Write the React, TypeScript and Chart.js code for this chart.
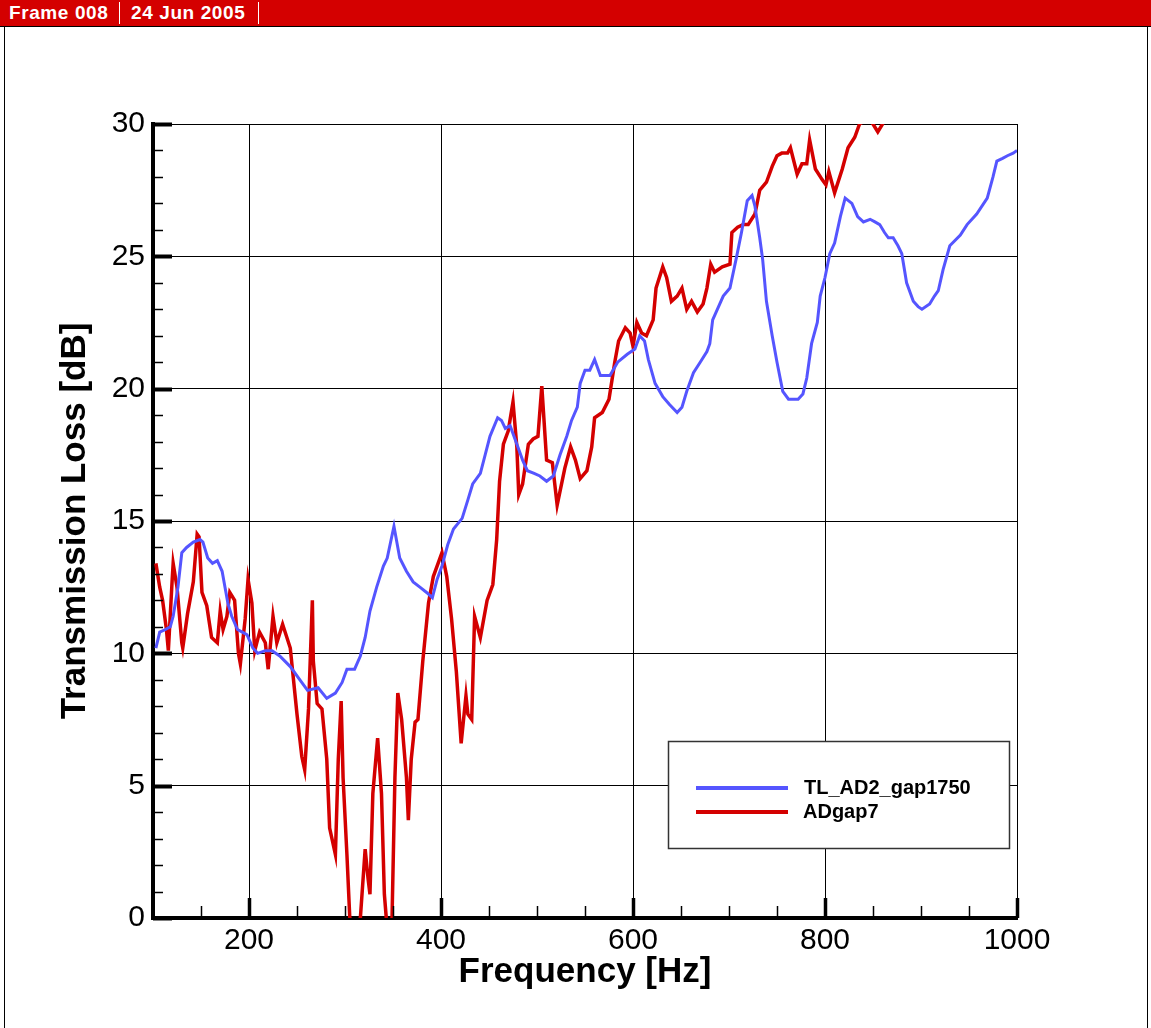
import React, { useEffect, useRef } from "react";
import { Chart, registerables } from "chart.js";

Chart.register(...registerables);

// TL_AD2_gap1750 — frequency [Hz] and transmission loss [dB]
const gapFreq = [
  103, 107, 113, 118, 121, 126, 130, 135, 142, 149, 152, 157, 162, 167, 172, 175, 178, 182, 188, 193,
  198, 204, 209, 217, 224, 232, 243, 253, 261, 272, 281, 290, 297, 302, 310, 316, 321, 326, 333, 340,
  344, 351, 357, 364, 371, 378, 385, 391, 396, 401, 407, 413, 422, 428, 433, 441, 446, 451, 459, 463,
  467, 472, 478, 485, 490, 497, 503, 510, 517, 524, 531, 536, 542, 545, 550, 555, 560, 566, 576, 584,
  594, 602, 607, 612, 616, 623, 631, 638, 646, 651, 656, 663, 670, 677, 680, 683, 694, 701, 708, 713,
  719, 724, 727, 732, 735, 739, 745, 750, 756, 762, 767, 772, 777, 781, 786, 792, 795, 800, 805, 810,
  816, 821, 828, 834, 840, 847, 852, 857, 862, 866, 871, 876, 880, 885, 892, 897, 901, 909, 914, 918,
  923, 930, 941, 948, 958, 969, 975, 979, 985, 990, 996, 1000,
];
const gapLoss = [
  10.2, 10.8, 10.9, 11.0, 11.4, 12.5, 13.8, 14.0, 14.2, 14.3, 14.2, 13.6, 13.4, 13.5, 13.1, 12.5, 11.9, 11.4, 10.9, 10.8,
  10.7, 10.2, 10.0, 10.1, 10.1, 9.9, 9.5, 9.0, 8.6, 8.7, 8.3, 8.5, 8.9, 9.4, 9.4, 9.9, 10.6, 11.6, 12.5, 13.3,
  13.6, 14.8, 13.6, 13.1, 12.7, 12.5, 12.3, 12.1, 12.8, 13.3, 14.1, 14.7, 15.1, 15.8, 16.4, 16.8, 17.5, 18.2, 18.9, 18.8,
  18.5, 18.6, 18.0, 17.3, 16.9, 16.8, 16.7, 16.5, 16.7, 17.5, 18.2, 18.8, 19.3, 20.2, 20.7, 20.7, 21.1, 20.5, 20.5, 21.0,
  21.3, 21.5, 22.0, 21.8, 21.1, 20.2, 19.7, 19.4, 19.1, 19.3, 19.9, 20.6, 21.0, 21.4, 21.7, 22.6, 23.5, 23.8, 25.0, 25.9,
  27.1, 27.3, 26.9, 25.7, 24.9, 23.3, 22.0, 21.0, 19.9, 19.6, 19.6, 19.6, 19.8, 20.4, 21.7, 22.5, 23.5, 24.2, 25.1, 25.5,
  26.5, 27.2, 27.0, 26.5, 26.3, 26.4, 26.3, 26.2, 25.9, 25.7, 25.7, 25.4, 25.1, 24.0, 23.3, 23.1, 23.0, 23.2, 23.5, 23.7,
  24.5, 25.4, 25.8, 26.2, 26.6, 27.2, 28.0, 28.6, 28.7, 28.8, 28.9, 29.0,
];

// ADgap7 — frequency [Hz] and transmission loss [dB]
const adFreq = [
  103, 107, 110, 114, 116, 120, 121, 125, 130, 131, 136, 142, 146, 148, 151, 156, 161, 167, 170, 173,
  177, 180, 185, 189, 191, 196, 199, 203, 206, 211, 217, 220, 225, 229, 235, 243, 250, 255, 258, 262,
  266, 267, 271, 276, 281, 284, 290, 293, 296, 298, 302, 305, 308, 313, 316, 321, 324, 326, 329, 334,
  338, 341, 343, 346, 349, 352, 355, 359, 364, 366, 369, 373, 376, 381, 387, 392, 398, 401, 406, 411,
  416, 421, 426, 428, 432, 435, 441, 448, 454, 458, 461, 465, 470, 475, 479, 481, 485, 491, 496, 501,
  505, 510, 516, 521, 529, 535, 540, 545, 552, 557, 560, 568, 575, 578, 581, 585, 592, 597, 600, 604,
  609, 614, 621, 624, 631, 635, 640, 646, 651, 656, 661, 667, 673, 677, 681, 685, 693, 701, 703, 709,
  715, 720, 727, 732, 739, 745, 750, 755, 761, 764, 771, 776, 781, 784, 790, 797, 801, 804, 810, 818,
  824, 831, 836, 845, 850, 855, 860, 866, 875,
];
const adLoss = [
  13.4, 12.5, 12.0, 10.9, 10.1, 12.8, 13.4, 12.5, 10.4, 10.2, 11.5, 12.7, 14.5, 14.4, 12.3, 11.8, 10.6, 10.4, 11.6, 10.9,
  11.4, 12.3, 12.0, 10.0, 9.6, 11.3, 12.8, 11.9, 10.1, 10.8, 10.4, 9.4, 11.4, 10.4, 11.1, 10.2, 7.7, 6.1, 5.6, 7.9,
  12.0, 9.7, 8.1, 7.9, 6.0, 3.4, 2.4, 6.0, 8.2, 5.3, 2.4, 0.0, -1.5, -1.0, 0.0, 2.6, 1.5, 0.9, 4.7, 6.8,
  4.7, 0.9, 0.0, -1.0, 0.0, 5.3, 8.5, 7.5, 5.3, 3.7, 6.0, 7.4, 7.5, 9.7, 11.9, 12.9, 13.5, 13.8, 12.9, 11.3,
  9.3, 6.6, 8.4, 7.7, 7.5, 11.4, 10.6, 12.0, 12.6, 14.3, 16.5, 17.9, 18.4, 19.5, 17.8, 16.0, 16.4, 17.9, 18.1, 18.2,
  20.1, 17.3, 17.2, 15.6, 17.0, 17.8, 17.3, 16.6, 16.9, 17.8, 18.9, 19.1, 19.6, 20.3, 21.0, 21.8, 22.3, 22.1, 21.6, 22.5,
  22.1, 22.0, 22.6, 23.8, 24.6, 24.2, 23.3, 23.5, 23.8, 23.0, 23.3, 22.9, 23.2, 23.8, 24.7, 24.4, 24.6, 24.7, 25.9, 26.1,
  26.2, 26.2, 26.6, 27.5, 27.8, 28.4, 28.8, 28.9, 28.9, 29.1, 28.1, 28.5, 28.5, 29.4, 28.3, 27.9, 27.7, 28.2, 27.4, 28.3,
  29.1, 29.5, 30.0, 30.2, 30.0, 29.7, 30.0, 30.6, 31.2,
];

const seriesLabels = ["TL_AD2_gap1750", "ADgap7"];
const seriesColors = ["#5555ff", "#d40000"];

const xTickValues = [200, 400, 600, 800, 1000];
const yTickValues = [0, 5, 10, 15, 20, 25, 30];
const xMinorStep = 50;
const yMinorStep = 1;

const FONT = "'Liberation Sans', Arial, Helvetica, sans-serif";

// Inward tick marks along the left and bottom axes
const innerTicks = {
  id: "innerTicks",
  afterDraw(chart: any) {
    const { ctx, chartArea } = chart;
    const xs = chart.scales.x;
    const ys = chart.scales.y;
    ctx.save();
    ctx.strokeStyle = "#000";
    for (let v = ys.min; v <= ys.max + 1e-9; v += yMinorStep) {
      const major = yTickValues.includes(v);
      const py = Math.round(ys.getPixelForValue(v)) + 0.5;
      ctx.lineWidth = major ? 4 : 1.5;
      ctx.beginPath();
      ctx.moveTo(chartArea.left, py);
      ctx.lineTo(chartArea.left + (major ? 19 : 10), py);
      ctx.stroke();
    }
    for (let v = xs.min; v <= xs.max + 1e-9; v += xMinorStep) {
      const major = xTickValues.includes(v);
      const px = Math.round(xs.getPixelForValue(v)) + 0.5;
      ctx.lineWidth = major ? 3.5 : 1.5;
      ctx.beginPath();
      ctx.moveTo(px, chartArea.bottom);
      ctx.lineTo(px, chartArea.bottom - (major ? 20 : 12));
      ctx.stroke();
    }
    ctx.restore();
  },
};

// Boxed legend in the lower right of the plot
const boxLegend = {
  id: "boxLegend",
  afterDraw(chart: any) {
    const { ctx } = chart;
    const left = 668, top = 741, right = 1009, bottom = 848;
    ctx.save();
    ctx.fillStyle = "#fff";
    ctx.fillRect(left, top, right - left, bottom - top);
    ctx.strokeStyle = "#333";
    ctx.lineWidth = 1.5;
    ctx.strokeRect(left + 0.5, top + 0.5, right - left, bottom - top);
    chart.data.datasets.forEach((ds: any, i: number) => {
      const y = 788 + i * 24;
      ctx.strokeStyle = ds.borderColor;
      ctx.lineWidth = 4;
      ctx.beginPath();
      ctx.moveTo(696, y);
      ctx.lineTo(788, y);
      ctx.stroke();
      ctx.fillStyle = "#000";
      ctx.font = `bold 20px ${FONT}`;
      ctx.textBaseline = "middle";
      ctx.textAlign = "left";
      ctx.fillText(ds.label, 804 - i, y);
    });
    ctx.restore();
  },
};

export default function App() {
  const canvasRef = useRef<HTMLCanvasElement | null>(null);

  useEffect(() => {
    if (!canvasRef.current) return;
    const chart = new Chart(canvasRef.current, {
      type: "line",
      data: {
        datasets: [
          {
            label: seriesLabels[0],
            data: gapFreq.map((f, i) => ({ x: f, y: gapLoss[i] })),
            borderColor: seriesColors[0],
            borderWidth: 3,
            pointRadius: 0,
            tension: 0,
            clip: 0,
          },
          {
            label: seriesLabels[1],
            data: adFreq.map((f, i) => ({ x: f, y: adLoss[i] })),
            borderColor: seriesColors[1],
            borderWidth: 3.5,
            pointRadius: 0,
            tension: 0,
            clip: 0,
          },
        ],
      },
      options: {
        animation: false,
        responsive: false,
        events: [],
        layout: { padding: { top: 124, right: 134, left: 0, bottom: 0 } },
        plugins: { legend: { display: false }, tooltip: { enabled: false } },
        scales: {
          x: {
            type: "linear",
            min: 100,
            max: 1000,
            afterBuildTicks: (scale: any) => {
              scale.ticks = xTickValues.map((v) => ({ value: v }));
            },
            afterFit: (scale: any) => {
              scale.height = 110;
            },
            grid: { color: "#000", lineWidth: 1, drawTicks: false },
            border: { display: true, color: "#000", width: 4 },
            ticks: {
              color: "#000",
              padding: 5,
              maxRotation: 0,
              autoSkip: false,
              font: { family: FONT, size: 30 },
              callback: (value: any) => String(value),
            },
            title: {
              display: true,
              text: "Frequency [Hz]",
              color: "#000",
              padding: 35,
              font: { family: FONT, size: 35, weight: "bold" },
            },
          },
          y: {
            type: "linear",
            min: 0,
            max: 30,
            ticks: {
              stepSize: 5,
              color: "#000",
              padding: 8,
              font: { family: FONT, size: 30 },
              callback: (value: any) => String(value),
            },
            afterFit: (scale: any) => {
              scale.width = 153;
            },
            grid: { color: "#000", lineWidth: 1, drawTicks: false },
            border: { display: true, color: "#000", width: 4 },
            title: {
              display: true,
              text: "Transmission Loss [dB]",
              color: "#000",
              padding: 54,
              font: { family: FONT, size: 35, weight: "bold" },
            },
          },
        },
      },
      plugins: [innerTicks, boxLegend],
    });
    return () => chart.destroy();
  }, []);

  const headerText: React.CSSProperties = {
    position: "absolute",
    top: 2,
    color: "#fff",
    fontFamily: FONT,
    fontWeight: "bold",
    fontSize: 19,
    letterSpacing: "0.6px",
    lineHeight: "22px",
    whiteSpace: "nowrap",
  };
  const sep: React.CSSProperties = {
    position: "absolute",
    top: 2,
    width: 1,
    height: 22,
    background: "#fff",
  };

  return (
    <div
      style={{
        position: "absolute",
        left: 0,
        top: 0,
        width: 1151,
        height: 1028,
        background: "#fff",
        overflow: "hidden",
      }}
    >
      <canvas
        ref={canvasRef}
        width={1151}
        height={1028}
        style={{ position: "absolute", left: 0, top: 0, width: 1151, height: 1028 }}
      />
      <div
        style={{
          position: "absolute",
          left: 0,
          top: 0,
          width: 1151,
          height: 26,
          background: "#d40000",
          borderBottom: "1px solid #000",
        }}
      >
        <span style={{ ...headerText, left: 9 }}>Frame 008</span>
        <div style={{ ...sep, left: 119 }} />
        <span style={{ ...headerText, left: 131 }}>24 Jun 2005</span>
        <div style={{ ...sep, left: 258 }} />
      </div>
      <div style={{ position: "absolute", left: 4, top: 27, width: 1, height: 1001, background: "#000" }} />
      <div style={{ position: "absolute", left: 1147, top: 27, width: 1, height: 1001, background: "#000" }} />
    </div>
  );
}
